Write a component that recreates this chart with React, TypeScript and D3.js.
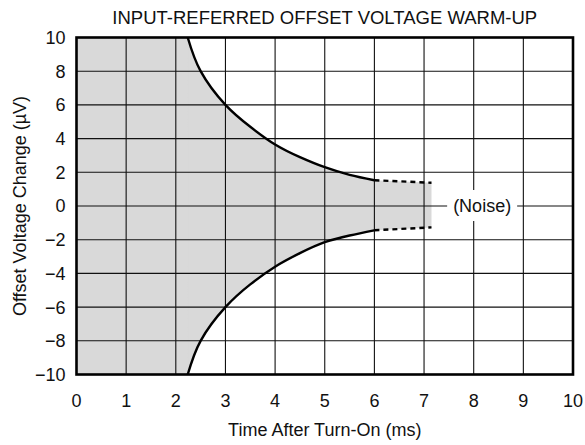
import React from "react";
import * as d3 from "d3";

const TITLE = "INPUT-REFERRED OFFSET VOLTAGE WARM-UP";
const X_LABEL = "Time After Turn-On (ms)";
const Y_LABEL = "Offset Voltage Change (µV)";
const NOISE_LABEL = "(Noise)";

const xTicks = [0, 1, 2, 3, 4, 5, 6, 7, 8, 9, 10];
const yTicks = [-10, -8, -6, -4, -2, 0, 2, 4, 6, 8, 10];

const curveT = [2.24, 2.5, 3, 3.5, 4, 4.5, 5, 5.5, 6];
const upperV = [10, 8, 6, 4.7, 3.65, 2.9, 2.3, 1.85, 1.53];
const lowerV = [-10, -8, -6, -4.65, -3.6, -2.8, -2.15, -1.75, -1.44];
const noiseT = [6, 7.15];
const noiseUpperV = [1.53, 1.38];
const noiseLowerV = [-1.44, -1.27];
const noiseLabelX = 8.17;

const W = 585;
const H = 445;
const FONT = "'Liberation Sans', Arial, Helvetica, sans-serif";
const FS = 18;

export default function App() {
  const x = d3.scaleLinear().domain([0, 10]).range([76.5, 573]);
  const y = d3.scaleLinear().domain([-10, 10]).range([374.5, 37.5]);

  const idx = curveT.map((_, i) => i);
  const nidx = noiseT.map((_, i) => i);

  const upLine = d3.line<number>().x((i) => x(curveT[i])).y((i) => y(upperV[i])).curve(d3.curveNatural);
  const loLine = d3.line<number>().x((i) => x(curveT[i])).y((i) => y(lowerV[i])).curve(d3.curveNatural);
  const band = d3
    .area<number>()
    .x((i) => x(curveT[i]))
    .y0((i) => y(lowerV[i]))
    .y1((i) => y(upperV[i]))
    .curve(d3.curveNatural);
  const nUp = d3.line<number>().x((i) => x(noiseT[i])).y((i) => y(noiseUpperV[i]));
  const nLo = d3.line<number>().x((i) => x(noiseT[i])).y((i) => y(noiseLowerV[i]));
  const nBand = d3
    .area<number>()
    .x((i) => x(noiseT[i]))
    .y0((i) => y(noiseLowerV[i]))
    .y1((i) => y(noiseUpperV[i]));

  const [x0, x1] = x.range();
  const [yb, yt] = y.range();

  return (
    <svg width={W} height={H} style={{ position: "absolute", left: 0, top: 0, background: "#fff" }} fontFamily={FONT}>
      <rect x={0} y={0} width={W} height={H} fill="#fff" />
      <text x={(x0 + x1) / 2} y={23.5} textAnchor="middle" fontSize={18.5} fill="#111">
        {TITLE}
      </text>
      <rect x={x0} y={yt} width={x(curveT[0]) - x0 + 0.5} height={yb - yt} fill="#d9d9d9" />
      <path d={band(idx) || ""} fill="#d9d9d9" stroke="#d9d9d9" strokeWidth={0.5} />
      <path d={nBand(nidx) || ""} fill="#d9d9d9" stroke="none" />
      {xTicks.slice(1, -1).map((t) => (
        <line key={"gx" + t} x1={x(t)} x2={x(t)} y1={yt} y2={yb} stroke="#111" strokeWidth={1.1} />
      ))}
      {yTicks.slice(1, -1).map((v) => (
        <line key={"gy" + v} x1={x0} x2={x1} y1={y(v)} y2={y(v)} stroke="#111" strokeWidth={1.1} />
      ))}
      <path d={upLine(idx) || ""} fill="none" stroke="#000" strokeWidth={2.4} />
      <path d={loLine(idx) || ""} fill="none" stroke="#000" strokeWidth={2.4} />
      <path d={nUp(nidx) || ""} fill="none" stroke="#000" strokeWidth={2.4} strokeDasharray="5,4" />
      <path d={nLo(nidx) || ""} fill="none" stroke="#000" strokeWidth={2.4} strokeDasharray="5,4" />
      <rect x={x(noiseLabelX) - 35} y={y(0) - 16} width={70} height={31} fill="#fff" />
      <text x={x(noiseLabelX)} y={y(0)} dy="0.36em" textAnchor="middle" fontSize={FS} fill="#111">
        {NOISE_LABEL}
      </text>
      <rect x={x0} y={yt} width={x1 - x0} height={yb - yt} fill="none" stroke="#000" strokeWidth={2.6} />
      {yTicks.map((v) => (
        <text key={"ty" + v} x={x0 - 11} y={y(v)} dy="0.36em" textAnchor="end" fontSize={FS} fill="#111">
          {v < 0 ? "\u2212" + Math.abs(v) : String(v)}
        </text>
      ))}
      {xTicks.map((t) => (
        <text key={"tx" + t} x={x(t)} y={407} textAnchor="middle" fontSize={FS} fill="#111">
          {String(t)}
        </text>
      ))}
      <text x={(x0 + x1) / 2} y={436} textAnchor="middle" fontSize={FS} fill="#111">
        {X_LABEL}
      </text>
      <text transform={`translate(26,${(yt + yb) / 2}) rotate(-90)`} textAnchor="middle" fontSize={FS} fill="#111">
        {Y_LABEL}
      </text>
    </svg>
  );
}
